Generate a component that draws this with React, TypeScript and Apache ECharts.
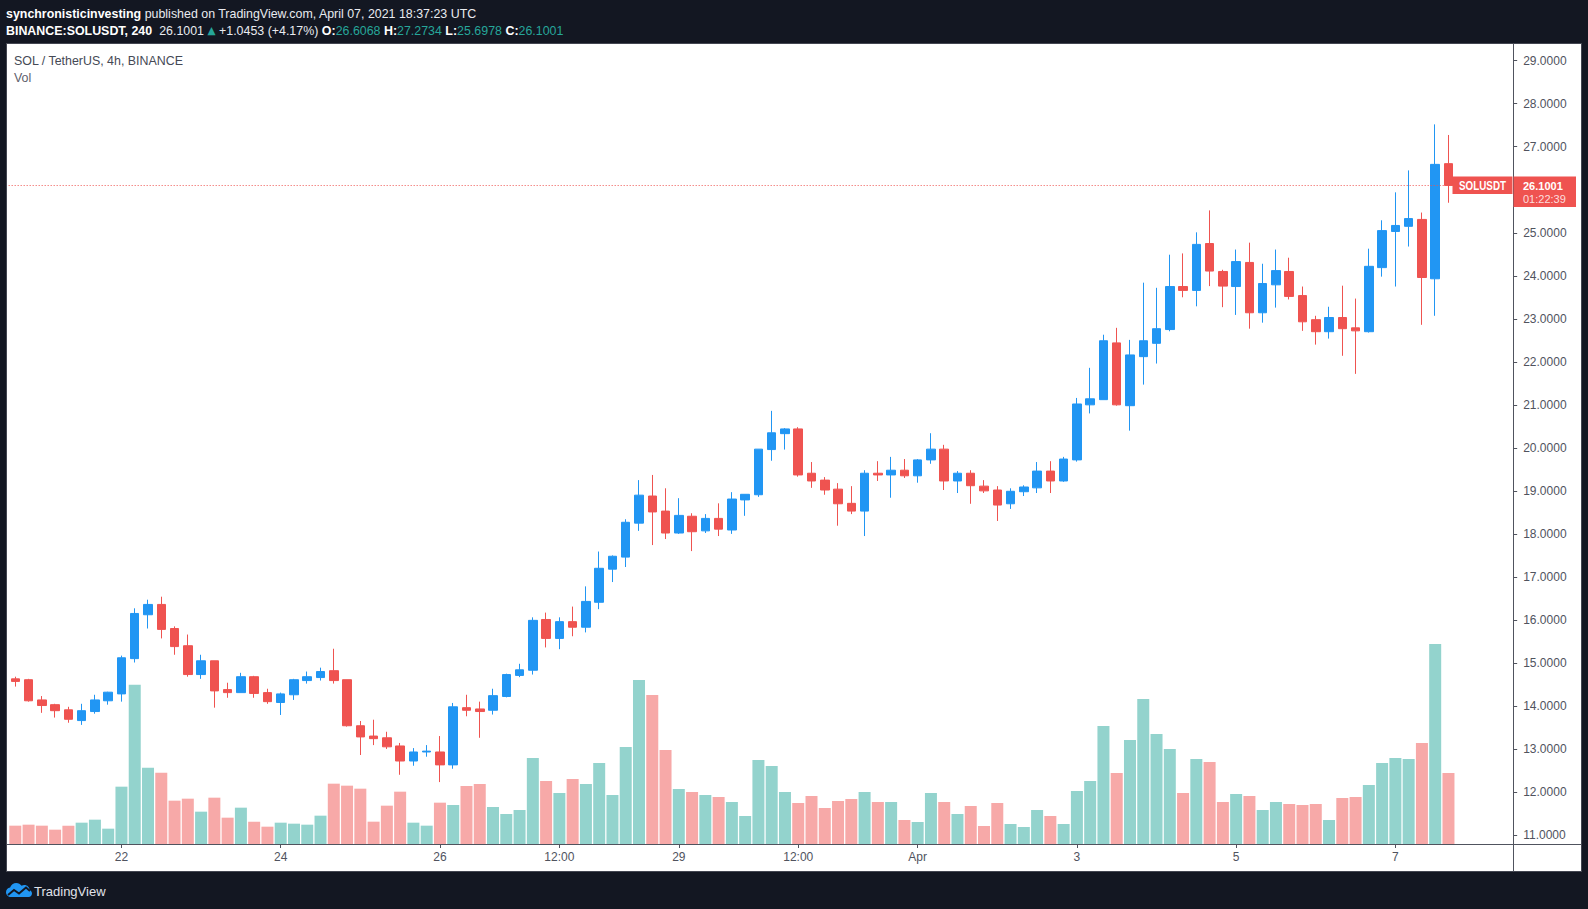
import React, { useEffect, useRef } from "react";
import * as echarts from "echarts";

// ---------- data ----------
const OPEN = [
  14.63, 14.61, 14.14, 14.03, 13.91, 13.66, 13.87, 14.12, 14.28, 15.10,
  16.12, 16.36, 15.80, 15.40, 14.73, 15.05, 14.38, 14.31, 14.68, 14.31,
  14.08, 14.26, 14.59, 14.66, 14.82, 14.61, 13.54, 13.30, 13.26, 13.07,
  12.72, 12.93, 12.93, 12.63, 13.96, 13.93, 13.90, 14.22, 14.71, 14.83,
  16.01, 15.57, 15.96, 15.83, 16.41, 17.18, 17.46, 18.25, 18.88, 18.53,
  18.02, 18.41, 18.07, 18.36, 18.09, 18.79, 18.91, 19.96, 20.33, 20.44,
  19.41, 19.25, 19.04, 18.71, 18.53, 19.41, 19.37, 19.48, 19.35, 19.72,
  19.97, 19.23, 19.41, 19.11, 19.02, 18.70, 18.98, 19.07, 19.46, 19.23,
  19.72, 21.00, 21.12, 22.44, 20.98, 22.12, 22.43, 22.75, 23.75, 23.66,
  24.75, 24.10, 23.75, 24.31, 23.14, 23.79, 24.10, 23.54, 22.98, 22.70,
  23.03, 22.79, 22.70, 24.19, 25.03, 25.15, 25.31, 23.93, 26.6068,
];
const CLOSE = [
  14.57, 14.12, 14.01, 13.89, 13.69, 13.89, 14.14, 14.32, 15.12, 16.15,
  16.36, 15.78, 15.38, 14.73, 15.05, 14.35, 14.31, 14.68, 14.29, 14.10,
  14.28, 14.61, 14.68, 14.80, 14.59, 13.54, 13.28, 13.24, 13.05, 12.72,
  12.93, 12.95, 12.63, 13.98, 13.90, 13.87, 14.24, 14.73, 14.84, 15.99,
  15.57, 15.96, 15.83, 16.43, 17.20, 17.48, 18.27, 18.90, 18.51, 18.02,
  18.43, 18.05, 18.36, 18.11, 18.81, 18.92, 19.97, 20.35, 20.44, 19.37,
  19.23, 19.02, 18.70, 18.53, 19.41, 19.37, 19.48, 19.35, 19.72, 19.97,
  19.23, 19.41, 19.12, 19.00, 18.67, 18.99, 19.09, 19.46, 19.23, 19.74,
  21.02, 21.14, 22.49, 21.00, 22.16, 22.49, 22.77, 23.75, 23.66, 24.73,
  24.11, 23.76, 24.33, 23.14, 23.82, 24.12, 23.52, 22.93, 22.70, 23.03,
  22.77, 22.72, 24.22, 25.05, 25.17, 25.33, 23.96, 26.59, 26.1001,
];
const LOW = [
  14.45, 14.10, 13.84, 13.73, 13.61, 13.56, 13.82, 14.03, 14.10, 15.01,
  15.80, 15.57, 15.19, 14.68, 14.63, 13.96, 14.19, 14.31, 14.19, 14.05,
  13.79, 14.14, 14.52, 14.59, 14.52, 13.52, 12.86, 13.09, 13.00, 12.40,
  12.61, 12.82, 12.23, 12.54, 13.76, 13.26, 13.80, 14.20, 14.67, 14.73,
  15.36, 15.32, 15.62, 15.71, 16.25, 16.88, 17.23, 18.07, 17.74, 17.88,
  18.00, 17.60, 18.02, 17.95, 18.00, 18.42, 18.86, 19.70, 19.96, 19.33,
  19.07, 18.91, 18.19, 18.46, 17.95, 19.23, 18.84, 19.30, 19.19, 19.63,
  19.02, 18.95, 18.70, 18.95, 18.30, 18.58, 18.88, 18.95, 18.95, 19.21,
  19.68, 20.80, 21.12, 20.98, 20.40, 21.47, 21.96, 22.71, 23.50, 23.29,
  23.76, 23.27, 23.09, 22.77, 22.91, 23.26, 23.45, 22.72, 22.40, 22.54,
  22.14, 21.72, 22.68, 23.98, 23.75, 24.68, 22.86, 23.07, 25.6978,
];
const HIGH = [
  14.68, 14.63, 14.23, 14.05, 13.98, 14.05, 14.26, 14.33, 15.17, 16.27,
  16.47, 16.54, 15.85, 15.66, 15.19, 15.05, 14.54, 14.77, 14.70, 14.40,
  14.31, 14.63, 14.80, 14.89, 15.33, 14.61, 13.65, 13.68, 13.40, 13.14,
  13.02, 13.09, 13.30, 14.07, 14.26, 14.10, 14.40, 14.75, 14.98, 16.06,
  16.17, 16.06, 16.31, 16.78, 17.59, 17.50, 18.34, 19.25, 19.37, 19.06,
  18.83, 18.48, 18.46, 18.71, 18.97, 18.92, 19.97, 20.86, 20.46, 20.48,
  19.67, 19.32, 19.18, 19.11, 19.48, 19.69, 19.79, 19.74, 19.74, 20.34,
  20.07, 19.46, 19.48, 19.25, 19.11, 19.06, 19.13, 19.67, 19.69, 19.79,
  21.16, 21.86, 22.63, 22.79, 22.51, 23.84, 23.72, 24.49, 24.52, 25.01,
  25.52, 24.14, 24.61, 24.77, 24.28, 24.61, 24.42, 23.75, 23.07, 23.28,
  23.77, 23.47, 24.63, 25.29, 25.94, 26.45, 25.47, 27.52, 27.2734,
];
const VOLUME = [
  55, 58, 55, 43, 55, 64, 73, 46, 172, 478,
  229, 214, 130, 136, 97, 139, 79, 109, 67, 52,
  64, 61, 58, 85, 181, 175, 166, 67, 115, 157,
  64, 55, 124, 117, 174, 180, 111, 90, 102, 258,
  189, 153, 195, 180, 243, 147, 291, 492, 447, 282,
  165, 156, 147, 141, 126, 84, 252, 234, 156, 123,
  144, 108, 129, 135, 156, 126, 126, 72, 66, 153,
  126, 90, 114, 54, 123, 60, 51, 102, 84, 60,
  159, 189, 354, 213, 312, 435, 330, 285, 153, 255,
  246, 126, 150, 144, 102, 126, 120, 117, 120, 72,
  138, 141, 177, 243, 258, 255, 303, 600, 213,
];
const TICK_INDEX = [8, 20, 32, 41, 50, 59, 68, 80, 92, 104];
const TICK_LABELS = ["22", "24", "26", "12:00", "29", "12:00", "Apr", "3", "5", "7"];
const PRICE_MIN = 11;
const PRICE_MAX = 29;
const PRICE_STEP = 1;
const VOLUME_MAX = 900;
const CHANGE = 1.0453;
const CHANGE_PCT = 4.17;
const COUNTDOWN = "01:22:39";
const SYMBOL = "BINANCE:SOLUSDT";
const RESOLUTION = "240";
const SYMBOL_SHORT = "SOLUSDT";
const TITLE = "SOL / TetherUS, 4h, BINANCE";
const PUBLISHED = "published on TradingView.com, April 07, 2021 18:37:23 UTC";
const AUTHOR = "synchronisticinvesting";

const FIRST_TIME = Date.UTC(2021, 2, 20, 16, 0);
const STEP_MS = 4 * 3600 * 1000;
const SLOT_COUNT = 113; // 109 bars + empty right margin

const pad = (n: number) => String(n).padStart(2, "0");
const CATEGORIES = Array.from({ length: SLOT_COUNT }, (_, i) => {
  const d = new Date(FIRST_TIME + i * STEP_MS);
  return `${d.getUTCFullYear()}-${pad(d.getUTCMonth() + 1)}-${pad(d.getUTCDate())} ${pad(d.getUTCHours())}:00`;
});

// ---------- style ----------
const UP = "#2196f3";
const DOWN = "#ef5350";
const VOL_UP = "#93d3cd";
const VOL_DOWN = "#f7a9a8";
const TEAL = "#26a69a";
const AXIS = "#50535e";
const BG = "#131722";
const FONT = '"Liberation Sans", Arial, sans-serif';
const SQUEEZE = 0.955; // slight horizontal squeeze to mimic the UI font
const TAG_SQUEEZE = 0.82;

const GRID_LEFT = 8.67;
const SLOT_W = 13.27;
const GRID_W = SLOT_W * SLOT_COUNT;

const CLOUD_PATH =
  "M5 14C2.2 14 0 11.8 0 9.2C0 6.8 1.8 4.8 4.1 4.5C5 1.9 7.4 0 10.3 0C12.5 0 14.4 1.1 15.6 2.8C16.4 2.3 17.4 2 18.4 2C21.2 2 23.5 4.2 23.6 7C25.1 7.6 26 9 26 10.6C26 12.5 24.5 14 22.6 14Z";

function staticGraphics(): any[] {
  const last = OPEN.length - 1;
  const rich = {
    b: { fill: "#ffffff", fontWeight: "bold", fontSize: 13, fontFamily: FONT },
    n: { fill: "#e9ebf0", fontSize: 13, fontFamily: FONT },
    g: { fill: TEAL, fontSize: 13, fontFamily: FONT },
    t: { fill: TEAL, fontSize: 11, fontFamily: '"DejaVu Sans", sans-serif' },
  };
  const line2 =
    `{b|${SYMBOL}, ${RESOLUTION}}{n|  ${CLOSE[last].toFixed(4)} }{t|▲}{n| +${CHANGE.toFixed(4)} (+${CHANGE_PCT.toFixed(2)}%) }` +
    `{b|O:}{g|${OPEN[last].toFixed(4)}}{n| }{b|H:}{g|${HIGH[last].toFixed(4)}}{n| }` +
    `{b|L:}{g|${LOW[last].toFixed(4)}}{n| }{b|C:}{g|${CLOSE[last].toFixed(4)}}`;
  return [
    {
      id: "panel", type: "rect", z: 0, silent: true,
      shape: { x: 6.5, y: 43.5, width: 1575, height: 828 },
      style: { fill: "#ffffff", stroke: "#434651", lineWidth: 1 },
    },
    {
      id: "hsep", type: "line", z: 5, silent: true,
      shape: { x1: 6.5, y1: 844.5, x2: 1581.5, y2: 844.5 },
      style: { stroke: AXIS, lineWidth: 1 },
    },
    {
      id: "vsep", type: "line", z: 5, silent: true,
      shape: { x1: 1513.5, y1: 43.5, x2: 1513.5, y2: 871.5 },
      style: { stroke: AXIS, lineWidth: 1 },
    },
    {
      id: "head1", type: "text", x: 6, y: 13, scaleX: SQUEEZE, z: 5, silent: true,
      style: { text: `{b|${AUTHOR}}{n| ${PUBLISHED}}`, rich, verticalAlign: "middle", align: "left" },
    },
    {
      id: "head2", type: "text", x: 6, y: 30, scaleX: SQUEEZE, z: 5, silent: true,
      style: { text: line2, rich, verticalAlign: "middle", align: "left" },
    },
    {
      id: "legend1", type: "text", x: 14, y: 60, scaleX: SQUEEZE, z: 5, silent: true,
      style: { text: TITLE, fill: "#454955", fontSize: 13, fontFamily: FONT, verticalAlign: "middle" },
    },
    {
      id: "legend2", type: "text", x: 14, y: 77, scaleX: SQUEEZE, z: 5, silent: true,
      style: { text: "Vol", fill: "#5d606b", fontSize: 13, fontFamily: FONT, verticalAlign: "middle" },
    },
    {
      id: "logo", type: "tvcloud", x: 6, y: 883, z: 5, silent: true,
      style: { fill: UP },
    },
    {
      id: "logoline", type: "polyline", z: 6, silent: true,
      shape: { points: [[8, 895], [14, 890], [19, 893.5], [26, 887.5], [30, 891]] },
      style: { stroke: BG, lineWidth: 2, fill: null },
    },
    {
      id: "logotext", type: "text", x: 34, y: 891, z: 5, silent: true,
      style: { text: "TradingView", fill: "#e1e3ea", fontSize: 13, fontFamily: FONT, verticalAlign: "middle" },
    },
  ];
}

function tagGraphics(y: number): any[] {
  const last = CLOSE.length - 1;
  return [
    {
      id: "symtag", type: "rect", z: 10, silent: true,
      shape: { x: 1452.5, y: y - 9, width: 60, height: 17.5 },
      style: { fill: DOWN },
    },
    {
      id: "symtext", type: "text", x: 1482.5, y: y, scaleX: TAG_SQUEEZE, z: 11, silent: true,
      style: {
        text: SYMBOL_SHORT, fill: "#ffffff", fontWeight: "bold", fontSize: 12,
        fontFamily: FONT, align: "center", verticalAlign: "middle",
      },
    },
    {
      id: "pricetag", type: "rect", z: 10, silent: true,
      shape: { x: 1513.5, y: y - 9, width: 62.5, height: 30.5 },
      style: { fill: DOWN },
    },
    {
      id: "pricetext", type: "text", x: 1523, y: y + 0.3, z: 11, silent: true,
      style: {
        text: CLOSE[last].toFixed(4), fill: "#ffffff", fontWeight: "bold", fontSize: 11,
        lineHeight: 12, fontFamily: FONT, align: "left", verticalAlign: "middle",
      },
    },
    {
      id: "counttext", type: "text", x: 1523, y: y + 14, z: 11, silent: true,
      style: {
        text: COUNTDOWN, fill: "rgba(255,255,255,0.82)", fontSize: 11,
        lineHeight: 12, fontFamily: FONT, align: "left", verticalAlign: "middle",
      },
    },
  ];
}

export default function App() {
  const ref = useRef<HTMLDivElement>(null);
  useEffect(() => {
    const el = ref.current;
    if (!el) return;
    echarts.graphic.registerShape("tvcloud", echarts.graphic.extendPath(CLOUD_PATH, {}) as any);
    const chart = echarts.init(el, null, { renderer: "svg" });
    const candles = OPEN.map((o, i) => [o, CLOSE[i], LOW[i], HIGH[i]]);
    const volumes = VOLUME.map((v, i) => ({
      value: v,
      itemStyle: { color: CLOSE[i] >= OPEN[i] ? VOL_UP : VOL_DOWN },
    }));
    const isTick = (i: number) => TICK_INDEX.includes(i);
    const lastClose = CLOSE[CLOSE.length - 1];

    const option: any = {
      animation: false,
      backgroundColor: BG,
      grid: [
        { left: GRID_LEFT, top: 60.7, width: GRID_W, height: 774.3 },
        { left: GRID_LEFT, top: 544, width: GRID_W, height: 300 },
      ],
      xAxis: [
        { type: "category", gridIndex: 0, data: CATEGORIES, show: false },
        {
          type: "category", gridIndex: 1, data: CATEGORIES,
          axisLine: { show: true, lineStyle: { color: AXIS } },
          axisTick: { show: true, alignWithLabel: true, interval: isTick, length: 4, lineStyle: { color: AXIS } },
          axisLabel: {
            interval: isTick,
            formatter: (_v: string, i: number) => {
              const k = TICK_INDEX.indexOf(i);
              return k >= 0 ? TICK_LABELS[k] : "";
            },
            color: AXIS, fontFamily: FONT, fontSize: 12, margin: 7,
          },
          splitLine: { show: false },
        },
      ],
      yAxis: [
        {
          type: "value", gridIndex: 0, position: "right", offset: 5,
          min: PRICE_MIN, max: PRICE_MAX, interval: PRICE_STEP,
          axisLine: { show: true, lineStyle: { color: AXIS } },
          axisTick: { show: true, length: 4, lineStyle: { color: AXIS } },
          axisLabel: {
            // the label hidden behind the last-price tag is not drawn, as in the reference
            formatter: (v: number) => (Math.abs(v - lastClose) < 0.5 ? "" : v.toFixed(4)),
            color: AXIS, fontFamily: FONT, fontSize: 12, margin: 10,
          },
          splitLine: { show: false },
        },
        { type: "value", gridIndex: 1, min: 0, max: VOLUME_MAX, show: false },
      ],
      series: [
        {
          name: "Vol", type: "bar", xAxisIndex: 1, yAxisIndex: 1, z: 1,
          data: volumes, barWidth: 12,
        },
        {
          name: "SOLUSDT", type: "candlestick", xAxisIndex: 0, yAxisIndex: 0, z: 3,
          data: candles, barWidth: 9,
          itemStyle: { color: UP, color0: DOWN, borderColor: UP, borderColor0: DOWN, borderWidth: 1 },
          markLine: {
            silent: true, symbol: ["none", "none"], label: { show: false },
            lineStyle: { color: DOWN, type: [1, 2], width: 1 },
            data: [{ yAxis: lastClose }],
          },
        },
      ],
      graphic: { elements: staticGraphics() },
    };
    chart.setOption(option);
    const y = chart.convertToPixel({ yAxisIndex: 0 }, lastClose) as number;
    chart.setOption({ graphic: { elements: [...staticGraphics(), ...tagGraphics(y)] } });
    return () => chart.dispose();
  }, []);
  return <div ref={ref} style={{ position: "fixed", left: 0, top: 0, width: 1588, height: 909 }} />;
}
